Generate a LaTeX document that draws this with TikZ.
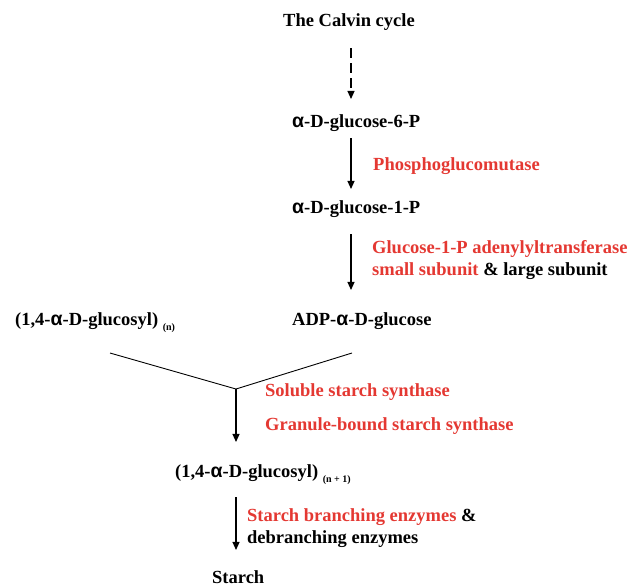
\documentclass[tikz,border=0pt]{standalone}
\usepackage{fontspec}
\setmainfont{Liberation Serif}
\newfontfamily\greekfont{Liberation Sans}
\usetikzlibrary{arrows.meta,positioning}
\definecolor{enzymered}{RGB}{228,56,50}
\newcommand{\alphasym}{{\greekfont\fontsize{19.5}{22}\selectfont α}}
\newcommand{\polysub}[1]{\raisebox{-5pt}{\fontsize{10}{12}\selectfont #1}}
\tikzset{
  metabox/.style={anchor=base west, inner sep=0pt, font=\fontsize{18.5}{22}\selectfont\bfseries},
  enzymelabel/.style={metabox, align=left, text=enzymered},
  flowarrow/.style={-{Triangle[length=8pt,width=7pt]}, line width=1.2pt},
  joinline/.style={line width=0.9pt}
}

\begin{document}
\begin{tikzpicture}[x=1pt, y=-1pt]
    \useasboundingbox (0,0) rectangle (644,586);
    \coordinate (upper) at (351,0);
    % metabolites
    \node[metabox] (calvin) at (283,27) {The Calvin cycle};
    \node[metabox] (gsix) at (292,127) {\alphasym-D-glucose-6-P};
    \node[metabox] (gone) at (292,213) {\alphasym-D-glucose-1-P};
    \node[metabox] (adpg) at (292,325) {ADP-\alphasym-D-glucose};
    \node[metabox] (glucn) at (15,325) {(1,4-\alphasym-D-glucosyl) \polysub{(n)}};
    \node[metabox] (glucnn) at (175,477) {(1,4-\alphasym-D-glucosyl) \polysub{(n + 1)}};
    \node[metabox] (starch) at (212,583) {Starch};
    % enzymes (base = last line)
    \node[enzymelabel] (pgm) at (373,170) {Phosphoglucomutase};
    \node[enzymelabel] (agpase) at (372,275) {Glucose-1-P adenylyltransferase\\small subunit {\color{black}\& large subunit}};
    \node[enzymelabel] (sss) at (265,396) {Soluble starch synthase};
    \node[enzymelabel] (gbss) at (265,430) {Granule-bound starch synthase};
    \node[enzymelabel] (sbe) at (247,543) {Starch branching enzymes {\color{black}\&}\\{\color{black}debranching enzymes}};
    % junction
    \coordinate (vleft) at (110,353);
    \coordinate (vright) at (352,353);
    \coordinate (vjoin) at (236,389);
    \draw[flowarrow, dash pattern=on 10pt off 5pt, shorten <=17pt, shorten >=15pt] (calvin.south -| upper) -- (gsix.north -| upper);
    \draw[flowarrow, shorten <=7pt, shorten >=11pt] (gsix.south -| upper) -- (gone.north -| upper);
    \draw[flowarrow, shorten <=17pt, shorten >=22pt] (gone.south -| upper) -- (adpg.north -| upper);
    \draw[joinline] (vleft) -- (vjoin) -- (vright);
    \draw[flowarrow, shorten >=22pt] (vjoin) -- (glucnn.north -| vjoin);
    \draw[flowarrow, shorten <=13pt, shorten >=20pt] (glucnn.south -| vjoin) -- (starch.north -| vjoin);
  \end{tikzpicture}
\end{document}
